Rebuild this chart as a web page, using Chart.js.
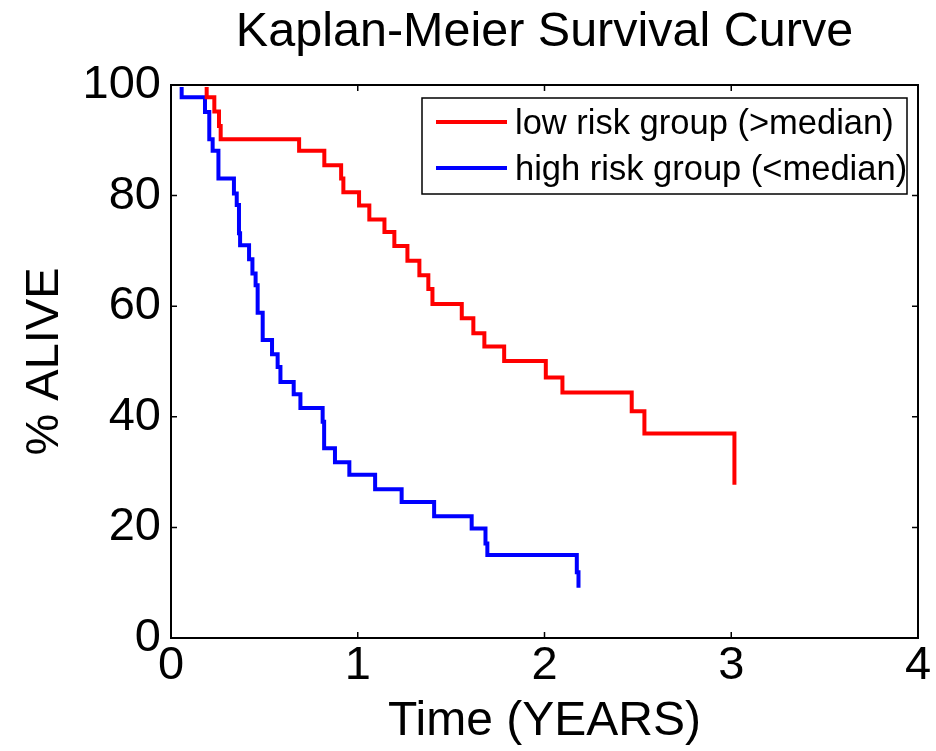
<!DOCTYPE html>
<html>
<head>
<meta charset="utf-8">
<title>Kaplan-Meier Survival Curve</title>
<script src="https://cdn.jsdelivr.net/npm/chart.js@4.4.1/dist/chart.umd.min.js"></script>
<style>
  html, body { margin: 0; padding: 0; background: #fff; }
  canvas { display: block; }
</style>
</head>
<body>
<canvas id="km-chart" width="936" height="751"></canvas>
<script>
'use strict';
// survival steps: time in years, % alive after each drop
var lowRiskTimes = [0, 0.191, 0.232, 0.257, 0.266, 0.686, 0.821, 0.911, 0.923, 1.007, 1.062, 1.143, 1.196,
  1.266, 1.330, 1.378, 1.400, 1.557, 1.619, 1.678, 1.784, 2.007, 2.096, 2.467, 2.535, 3.017];
var lowRiskAlive = [100, 97.8, 95.2, 92.6, 90.2, 88.1, 85.5, 83.1, 80.6, 78.2, 75.7, 73.4, 70.9,
  68.2, 65.6, 63.1, 60.4, 57.8, 55.1, 52.7, 50.1, 47.1, 44.4, 41.0, 37.0, 27.7];

var highRiskTimes = [0, 0.057, 0.182, 0.205, 0.223, 0.254, 0.337, 0.352, 0.364, 0.370, 0.418, 0.436, 0.453,
  0.464, 0.491, 0.541, 0.571, 0.586, 0.657, 0.693, 0.812, 0.820, 0.878, 0.955, 1.093, 1.235, 1.409,
  1.610, 1.684, 1.694, 2.173, 2.182];
var highRiskAlive = [100, 97.8, 95.1, 90.2, 88.1, 83.1, 80.4, 78.3, 73.2, 71.0, 68.5, 65.9, 63.8,
  58.8, 53.9, 51.3, 49.0, 46.3, 44.1, 41.6, 39.1, 34.3, 31.8, 29.5, 26.9, 24.6, 22.0,
  19.8, 17.1, 15.0, 11.9, 9.1];

var seriesLabels = ['low risk group (>median)', 'high risk group (<median)'];
var xTicks = [0, 1, 2, 3, 4];
var yTicks = [0, 20, 40, 60, 80, 100];

var FONT = "'Liberation Sans', Arial, Helvetica, sans-serif";

function toPoints(times, alive) {
  var pts = [];
  for (var i = 0; i < times.length; i++) {
    pts.push({ x: times[i], y: alive[i] });
  }
  return pts;
}

// matlab style box: top/right edges, inward ticks and the legend in the top right
var matlabBox = {
  id: 'matlabBox',
  afterDatasetsDraw: function(chart) {
    var ctx = chart.ctx;
    var a = chart.chartArea;
    var xs = chart.scales.x, ys = chart.scales.y;
    ctx.save();
    ctx.strokeStyle = '#000';
    ctx.lineWidth = 2;
    ctx.strokeRect(a.left, a.top, a.right - a.left, a.bottom - a.top);
    ctx.lineWidth = 1.5;
    ctx.beginPath();
    xTicks.forEach(function(v) {
      var px = xs.getPixelForValue(v);
      ctx.moveTo(px, a.bottom); ctx.lineTo(px, a.bottom - 6);
      ctx.moveTo(px, a.top); ctx.lineTo(px, a.top + 6);
    });
    yTicks.forEach(function(v) {
      var py = ys.getPixelForValue(v);
      ctx.moveTo(a.left, py); ctx.lineTo(a.left + 6, py);
      ctx.moveTo(a.right, py); ctx.lineTo(a.right - 6, py);
    });
    ctx.stroke();
    ctx.restore();
  },
  afterDraw: function(chart) {
    var ctx = chart.ctx;
    var a = chart.chartArea;
    var boxL = a.left + 251, boxT = a.top + 13, boxW = 485, boxH = 96;
    ctx.save();
    ctx.fillStyle = '#fff';
    ctx.fillRect(boxL, boxT, boxW, boxH);
    ctx.strokeStyle = '#000';
    ctx.lineWidth = 1.5;
    ctx.strokeRect(boxL, boxT, boxW, boxH);
    ctx.font = '34.5px ' + FONT;
    ctx.textBaseline = 'middle';
    ctx.textAlign = 'left';
    chart.data.datasets.forEach(function(ds, i) {
      var yy = boxT + 24 + i * 46;
      ctx.strokeStyle = ds.borderColor;
      ctx.lineWidth = 4;
      ctx.beginPath();
      ctx.moveTo(boxL + 14, yy);
      ctx.lineTo(boxL + 85, yy);
      ctx.stroke();
      ctx.fillStyle = '#000';
      ctx.fillText(ds.label, boxL + 93, yy + 2);
    });
    ctx.restore();
  }
};

var ctx = document.getElementById('km-chart').getContext('2d');
var kmChart = new Chart(ctx, {
  type: 'line',
  data: {
    datasets: [{
      label: seriesLabels[0],
      data: toPoints(lowRiskTimes, lowRiskAlive),
      borderColor: '#ff0000',
      backgroundColor: '#ff0000',
      borderWidth: 4,
      stepped: true,
      pointRadius: 0,
      fill: false,
      clip: { left: 0, top: -2, right: 0, bottom: 0 }
    }, {
      label: seriesLabels[1],
      data: toPoints(highRiskTimes, highRiskAlive),
      borderColor: '#0000ff',
      backgroundColor: '#0000ff',
      borderWidth: 4,
      stepped: true,
      pointRadius: 0,
      fill: false,
      clip: { left: 0, top: -2, right: 0, bottom: 0 }
    }]
  },
  options: {
    responsive: false,
    animation: false,
    devicePixelRatio: 1,
    layout: { padding: { left: 0, right: 18, top: 0, bottom: 0 } },
    plugins: {
      legend: { display: false },
      tooltip: { enabled: false },
      title: {
        display: true,
        text: 'Kaplan-Meier Survival Curve',
        fullSize: false,
        color: '#000',
        font: { family: FONT, size: 48.5, weight: 'normal' },
        padding: { top: 4, bottom: 22.8 }
      }
    },
    scales: {
      x: {
        type: 'linear',
        min: 0,
        max: 4,
        afterBuildTicks: function(scale) { scale.ticks = xTicks.map(function(v) { return { value: v }; }); },
        afterFit: function(scale) { scale.height = 113; },
        ticks: { color: '#000', padding: 0, font: { family: FONT, size: 47 } },
        grid: { display: false, drawTicks: false },
        border: { display: true, color: '#000', width: 2 },
        title: {
          display: true,
          text: 'Time (YEARS)',
          color: '#000',
          font: { family: FONT, size: 48 },
          padding: { top: 0, bottom: 0 }
        }
      },
      y: {
        min: 0,
        max: 100,
        afterBuildTicks: function(scale) { scale.ticks = yTicks.map(function(v) { return { value: v }; }); },
        afterFit: function(scale) { scale.width = 171; },
        ticks: { color: '#000', padding: 10, font: { family: FONT, size: 47 } },
        grid: { display: false, drawTicks: false },
        border: { display: true, color: '#000', width: 2 },
        title: {
          display: true,
          text: '% ALIVE',
          color: '#000',
          font: { family: FONT, size: 47 },
          padding: { top: 17, bottom: 0 }
        }
      }
    }
  },
  plugins: [matlabBox]
});
</script>
</body>
</html>
